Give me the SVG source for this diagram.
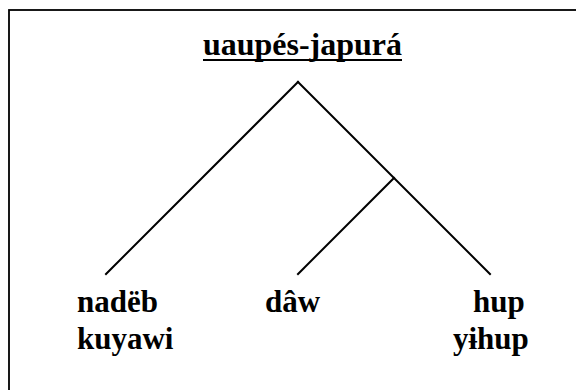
<svg xmlns="http://www.w3.org/2000/svg" width="576" height="390" viewBox="0 0 576 390">
<style>
.t{font-family:"Liberation Serif","Times New Roman",serif;font-weight:bold;font-size:31px;fill:#000}
.e{stroke:#000;stroke-width:2;fill:none;stroke-linecap:square}
</style>
<rect x="0" y="0" width="576" height="390" fill="#fff"/>
<rect x="9" y="10" width="620" height="420" fill="none" stroke="#000" stroke-width="1.8"/>
<g id="root">
<text class="t" x="203" y="55" textLength="199" lengthAdjust="spacingAndGlyphs">uaupés-japurá</text>
<line x1="203" y1="60" x2="402" y2="60" stroke="#000" stroke-width="2"/>
</g>
<g id="connectors">
<line class="e" x1="106" y1="274" x2="298" y2="82"/>
<line class="e" x1="298" y1="82" x2="490" y2="274"/>
<line class="e" x1="394" y1="178" x2="298" y2="274"/>
</g>
<g id="nadeb">
<text class="t" x="77" y="312">nadëb</text>
<text class="t" x="77" y="349">kuyawi</text>
</g>
<g id="daw">
<text class="t" x="265" y="312">dâw</text>
</g>
<g id="hup">
<text class="t" x="473" y="312">hup</text>
<text class="t" x="453" y="349">yɨhup</text>
</g>
</svg>
